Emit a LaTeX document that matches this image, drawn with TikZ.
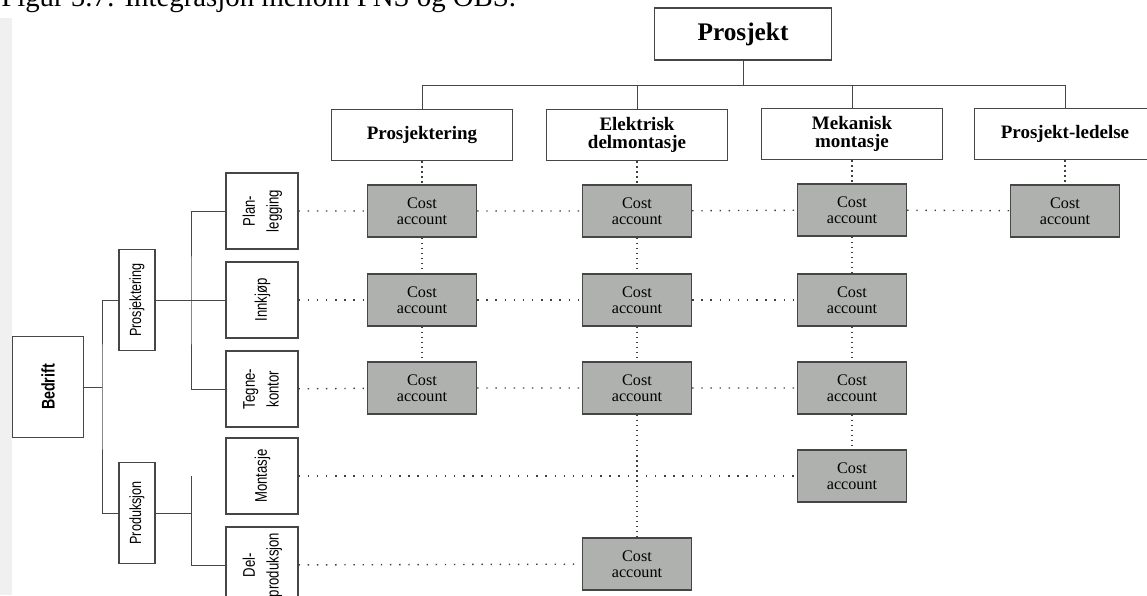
\documentclass[tikz,border=0pt]{standalone}
\usepackage{fontspec}
\setmainfont{Liberation Serif}
\newfontfamily\narrowsans[FakeStretch=0.78]{Liberation Sans}
\usetikzlibrary{positioning}

\definecolor{caFill}{RGB}{174,177,174}
\definecolor{boxLine}{RGB}{70,70,70}

\newcommand{\vlabel}[1]{\rotatebox{90}{\begin{tabular}{@{}c@{}}#1\end{tabular}}}

\begin{document}
\begin{tikzpicture}[x=0.025cm, y=-0.025cm,
  wbs/.style={rectangle, draw=boxLine, line width=0.9pt, fill=white,
    minimum width=4.525cm, minimum height=1.275cm, align=center,
    inner sep=1pt, font=\bfseries\fontsize{13.5}{12.5}\selectfont},
  cost/.style={rectangle, draw=boxLine, line width=0.9pt, fill=caFill,
    minimum width=2.725cm, minimum height=1.3cm, align=center,
    inner sep=1pt, font=\fontsize{11.5}{11.5}\selectfont},
  obs/.style={rectangle, draw=boxLine, line width=0.8pt, fill=white,
    inner sep=1pt, font=\narrowsans\fontsize{11.5}{14}\selectfont},
  leaf/.style={obs, minimum width=1.8cm, minimum height=1.9cm,
    font=\narrowsans\fontsize{12}{17}\selectfont},
  tree/.style={draw=boxLine, line width=0.7pt},
  hdots/.style={draw=black!75, line width=1pt, dash pattern=on 1pt off 5.5pt},
  vdots/.style={draw=black!75, line width=1pt, dash pattern=on 1pt off 2.6pt},
]
  \useasboundingbox (0,0) rectangle (1147,595);
  \fill[black!6] (0,18) rectangle (12,595);
  \node[anchor=base west, inner sep=0pt, font=\fontsize{20.5}{24}\selectfont]
    (caption) at (1,6) {Figur 5.7: Integrasjon mellom PNS og OBS.};

  \node[wbs, minimum width=4.425cm, minimum height=1.3cm,
    font=\bfseries\fontsize{18}{20}\selectfont] (prosjekt) at (743,34) {Prosjekt};
  \node[wbs] (hprj) at (422,135) {Prosjektering};
  \node[wbs] (hele) at (637,135) {Elektrisk\\delmontasje};
  \node[wbs] (hmek) at (852,134) {Mekanisk\\montasje};
  \node[wbs] (hled) at (1065,134) {Prosjekt-ledelse};
  \coordinate (bar) at (0,85);

  \node[obs, minimum width=1.775cm, minimum height=2.525cm,
    font=\narrowsans\bfseries\fontsize{13}{15}\selectfont] (bedrift) at (48,387) {\rotatebox{90}{Bedrift}};
  \node[obs, minimum width=0.9cm, minimum height=2.525cm] (oprj) at (137,300) {\rotatebox{90}{Prosjektering}};
  \node[obs, minimum width=0.9cm, minimum height=2.525cm] (oprod) at (137,513) {\rotatebox{90}{Produksjon}};
  \node[leaf] (plan) at (262,211) {\vlabel{Plan-\\legging}};
  \node[leaf] (innkjop) at (262,300) {\vlabel{Innkjøp}};
  \node[leaf] (tegne) at (262,389) {\vlabel{Tegne-\\kontor}};
  \node[leaf] (montasje) at (262,476) {\vlabel{Montasje}};
  \node[leaf] (delprod) at (262,565) {\vlabel{Del-\\produksjon}};

  \node[cost] (c11) at (422,211) {Cost\\account};
  \node[cost] (c12) at (637,211) {Cost\\account};
  \node[cost] (c13) at (852,210) {Cost\\account};
  \node[cost] (c14) at (1065,211) {Cost\\account};
  \node[cost] (c21) at (422,300) {Cost\\account};
  \node[cost] (c22) at (637,300) {Cost\\account};
  \node[cost] (c23) at (852,300) {Cost\\account};
  \node[cost] (c31) at (422,388) {Cost\\account};
  \node[cost] (c32) at (637,388) {Cost\\account};
  \node[cost] (c33) at (852,388) {Cost\\account};
  \node[cost] (c43) at (852,476) {Cost\\account};
  \node[cost] (c52) at (637,564) {Cost\\account};

  \draw[tree] (prosjekt.south) -- (prosjekt.south |- bar);
  \draw[tree] (hprj.north) -- (hprj.north |- bar) -- (hled.north |- bar) -- (hled.north);
  \draw[tree] (hele.north) -- (hele.north |- bar);
  \draw[tree] (hmek.north) -- (hmek.north |- bar);

  \coordinate (bfork) at (102,387);
  \coordinate (pfork) at (191,300);
  \coordinate (dfork) at (191,513);
  \draw[tree] (bedrift.east) -- (bfork);
  \draw[tree] (oprj.west) -| (bfork) |- (oprod.west);
  \draw[tree] (oprj.east) -- (pfork);
  \draw[tree] (plan.west) -| (pfork) |- (tegne.west);
  \draw[tree] (pfork) -- (innkjop.west);
  \draw[tree] (oprod.east) -- (dfork);
  \draw[tree] (dfork |- montasje) -- (dfork |- delprod) -- (delprod.west);

  \draw[hdots] (plan) -- (c11) -- (c12) -- (c13) -- (c14);
  \draw[hdots] (innkjop) -- (c21) -- (c22) -- (c23);
  \draw[hdots] (tegne) -- (c31) -- (c32) -- (c33);
  \draw[hdots] (montasje) -- (c43);
  \draw[hdots] (delprod) -- (c52);
  \draw[vdots] (hprj) -- (c11) -- (c21) -- (c31);
  \draw[vdots] (hele) -- (c12) -- (c22) -- (c32) -- (c52);
  \draw[vdots] (hmek) -- (c13) -- (c23) -- (c33) -- (c43);
  \draw[vdots] (hled) -- (c14);
\end{tikzpicture}
\end{document}
